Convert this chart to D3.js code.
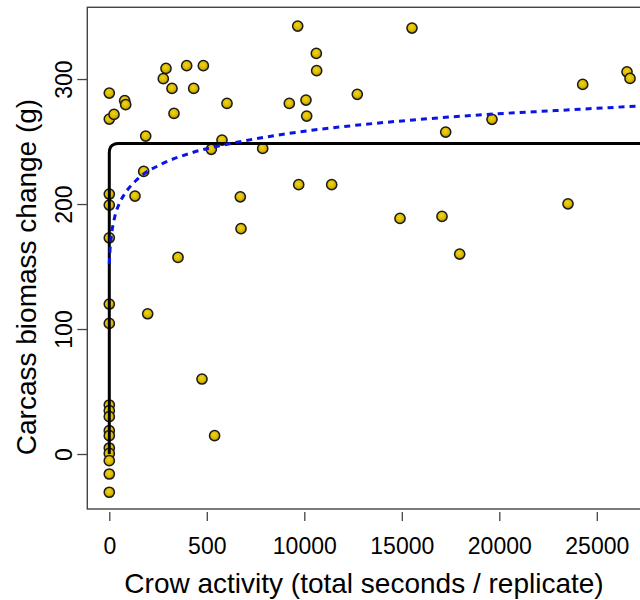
<!DOCTYPE html>
<html>
<head>
<meta charset="utf-8">
<script src="https://cdn.jsdelivr.net/npm/d3@7"></script>
<style>
  html, body { margin: 0; padding: 0; background: #fff; }
  svg { display: block; font-family: "Liberation Sans", Arial, sans-serif; }
</style>
</head>
<body>
<svg id="chart" width="640" height="600"></svg>
<script>
// crow activity (s) vs carcass biomass change (g)
const crowSeconds = [
    0, 0, 0, 0, 0, 0, 0, 0, 0, 0, 0, 0, 0, 0, 0, 0, 0,
    241, 790, 841, 1318, 1764, 1867, 1969, 2769, 2908, 3215, 3318, 3523, 3969, 4328,
    4754, 4823, 5231, 5400, 5779, 6036, 6718, 6754, 7867, 9231, 9662, 9713, 10087,
    10123, 10617, 10634, 11405, 12718, 14908, 15523, 17062, 17251, 17969, 19626,
    23523, 24277, 26549, 26703
];
const biomassChange = [
    288.8, 268, 208, 199.2, 173, 120, 104.5, 39.2, 34.7, 29.9, 18.7, 14.7, 4.8, 0.5, -5.3, -16, -30.6,
    271.7, 282.7, 279.5, 206.4, 226.1, 254.4, 112.2, 300.3, 308.5, 292.5, 272.5, 157.3, 310.7, 292.5,
    60, 310.7, 243.8, 14.7, 251.2, 280.5, 205.8, 180.3, 244.5, 280.5, 342.4, 215.5, 283.2,
    270.4, 320.5, 306.7, 215.5, 287.8, 188.5, 340.8, 190.1, 257.6, 160, 267.8,
    200.2, 295.7, 305.8, 300.5
];

// fitted curves, points
const solidFitX = [0, 0, 15, 60, 135, 230, 340, 460, 28600];
const solidFitY = [0, 241, 243.5, 245.5, 246.8, 247.7, 248.2, 248.5, 248.5];
const dashedFitX = [0, 40, 87, 150, 292, 549, 805, 1487, 2687, 4226, 6103, 9000, 12338, 15764, 19692, 22600, 27215, 28600];
const dashedFitY = [152, 164, 172, 179.5, 190.5, 201.5, 208.5, 220.5, 232, 241, 248, 256, 262.5, 267.5, 272, 274.5, 278.4, 279.4];

const xTicks = [0, 5000, 10000, 15000, 20000, 25000];
const xTickLabels = ["0", "500", "10000", "15000", "20000", "25000"];
const yTicks = [0, 100, 200, 300];

const xTitle = "Crow activity (total seconds / replicate)";
const yTitle = "Carcass biomass change (g)";

const plot = { left: 87.3, right: 667, top: 7.3, bottom: 509 };

const svg = d3.select("#chart");

const x = d3.scaleLinear().domain([-1128, 28600]).range([plot.left, plot.right]);
const y = d3.scaleLinear().domain([-44, 357.4]).range([plot.bottom, plot.top]);

// point shading
const grad = svg.append("defs").append("radialGradient")
    .attr("id", "dotFill")
    .attr("cx", "45%").attr("cy", "40%").attr("r", "60%");
grad.append("stop").attr("offset", "0%").attr("stop-color", "#f2d614");
grad.append("stop").attr("offset", "65%").attr("stop-color", "#d8b600");
grad.append("stop").attr("offset", "100%").attr("stop-color", "#9e8300");

const pts = crowSeconds.map((v, i) => ({ x: v, y: biomassChange[i] }));

svg.append("g")
    .selectAll("circle")
    .data(pts)
    .enter().append("circle")
    .attr("cx", d => x(d.x))
    .attr("cy", d => y(d.y))
    .attr("r", 5.1)
    .attr("fill", "url(#dotFill)")
    .attr("stroke", "#1a1a1a")
    .attr("stroke-width", 1.5);

svg.append("path")
    .datum(solidFitX.map((v, i) => [v, solidFitY[i]]))
    .attr("fill", "none")
    .attr("stroke", "#000")
    .attr("stroke-width", 3)
    .attr("stroke-linejoin", "round")
    .attr("d", d3.line().x(d => x(d[0])).y(d => y(d[1])));

svg.append("path")
    .datum(dashedFitX.map((v, i) => [v, dashedFitY[i]]))
    .attr("fill", "none")
    .attr("stroke", "#0a14e6")
    .attr("stroke-width", 3)
    .attr("stroke-dasharray", "6,5")
    .attr("d", d3.line().x(d => x(d[0])).y(d => y(d[1])).curve(d3.curveMonotoneX));

// frame
svg.append("rect")
    .attr("x", plot.left).attr("y", plot.top)
    .attr("width", plot.right - plot.left)
    .attr("height", plot.bottom - plot.top)
    .attr("fill", "none")
    .attr("stroke", "#444")
    .attr("stroke-width", 1.4);

// x axis
const xAxis = svg.append("g")
    .attr("transform", `translate(0,${plot.bottom})`)
    .call(d3.axisBottom(x).tickValues(xTicks).tickSize(10).tickSizeOuter(0)
        .tickFormat((d, i) => xTickLabels[i]));
xAxis.select(".domain").remove();
xAxis.selectAll(".tick line").attr("stroke", "#444").attr("stroke-width", 1.3).attr("y1", 3).attr("y2", 12);
xAxis.selectAll(".tick text")
    .attr("y", 44.5).attr("dy", null)
    .attr("fill", "#000")
    .style("font-size", "23px")
    .style("font-family", "Liberation Sans, Arial, sans-serif");

// y axis
const yAxis = svg.append("g")
    .attr("transform", `translate(${plot.left},0)`)
    .call(d3.axisLeft(y).tickValues(yTicks).tickSize(10).tickSizeOuter(0));
yAxis.select(".domain").remove();
yAxis.selectAll(".tick line").attr("stroke", "#444").attr("stroke-width", 1.3);
yAxis.selectAll(".tick text")
    .attr("x", null).attr("dy", null)
    .attr("transform", "translate(-15.5,0) rotate(-90)")
    .attr("text-anchor", "middle")
    .attr("fill", "#000")
    .style("font-size", "23px")
    .style("font-family", "Liberation Sans, Arial, sans-serif");

svg.append("text")
    .attr("x", 364).attr("y", 593)
    .attr("text-anchor", "middle")
    .style("font-size", "28px")
    .text(xTitle);

svg.append("text")
    .attr("transform", "translate(36,277) rotate(-90)")
    .attr("text-anchor", "middle")
    .style("font-size", "28px")
    .text(yTitle);
</script>
</body>
</html>
